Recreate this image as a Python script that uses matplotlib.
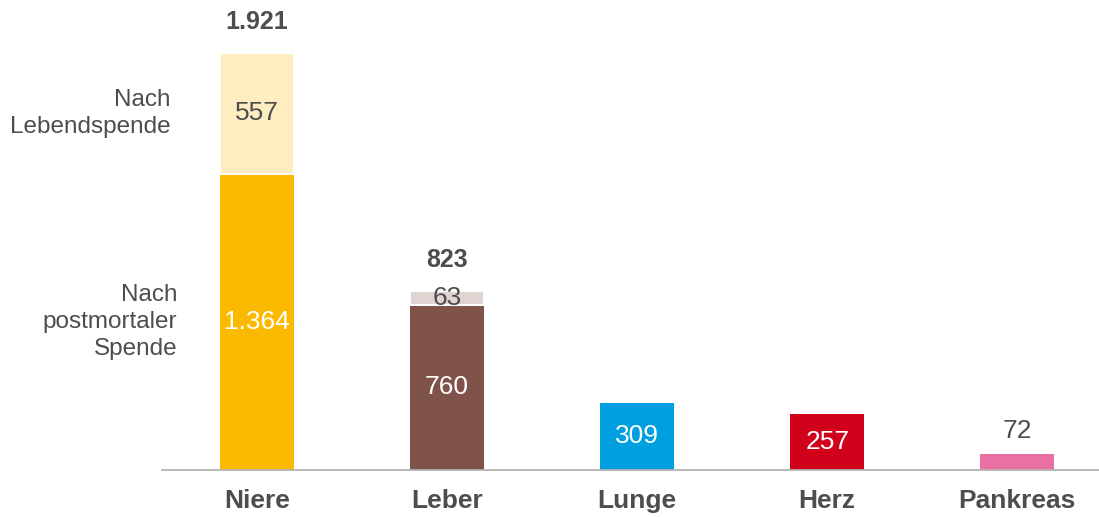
import matplotlib

matplotlib.use("Agg")
import matplotlib.pyplot as plt
import numpy as np

plt.rcParams["font.family"] = ["Liberation Sans", "DejaVu Sans"]

# data
organs = ["Niere", "Leber", "Lunge", "Herz", "Pankreas"]
postmortal = [1364, 760, 309, 257, 72]
lebend = [557, 63, 0, 0, 0]
totals = [1921, 823]
postmortal_labels = ["1.364", "760", "309", "257", "72"]
lebend_labels = ["557", "63"]
total_labels = ["1.921", "823"]

dark_colors = ["#FBBA00", "#7F5349", "#009FDF", "#D0021B", "#EA6FA2"]
light_colors = ["#FDEDC0", "#E0D4D2"]
TEXT = "#4D4D4D"

fig = plt.figure(figsize=(10.99, 5.17), dpi=100)
ax = fig.add_axes([162 / 1099, 1 - 470 / 517, 1 - 162 / 1099, 470 / 517])

x = np.arange(len(organs))
width = 0.39

ax.bar(x, postmortal, width=width, color=dark_colors, linewidth=0)
ax.bar(x[:2], lebend[:2], bottom=postmortal[:2], width=width,
       color=light_colors, edgecolor="white", linewidth=1.4)

ax.set_xlim(-0.5, 4.43)
ax.set_ylim(0, 2164)

# values inside the postmortal bars
for i, (v, lab) in enumerate(zip(postmortal, postmortal_labels)):
    if v < 150:
        ax.annotate(lab, (x[i], v), xytext=(0, 11.5), textcoords="offset points",
                    ha="center", va="baseline", fontsize=19, color=TEXT)
    else:
        ax.text(x[i], v / 2, lab, ha="center", va="center", fontsize=19, color="white")

# values of the living donor segments
for i, lab in enumerate(lebend_labels):
    ax.text(x[i], postmortal[i] + lebend[i] / 2, lab, ha="center", va="center",
            fontsize=19, color=TEXT)

# totals
for i, (t, lab) in enumerate(zip(totals, total_labels)):
    ax.annotate(lab, (x[i], t), xytext=(0, 17.3), textcoords="offset points",
                ha="center", va="baseline", fontsize=18, fontweight="bold", color=TEXT)

# segment labels to the left of the first bar
ax.text(-0.455, postmortal[0] + lebend[0] / 2, "Nach\nLebendspende", ha="right",
        va="center", fontsize=17.5, color=TEXT, linespacing=1.3)
ax.text(-0.42, postmortal[0] / 2, "Nach\npostmortaler\nSpende", ha="right",
        va="center", fontsize=17.5, color=TEXT, linespacing=1.3)

ax.set_xticks(x)
ax.set_xticklabels(organs, fontsize=19, fontweight="bold", color=TEXT)
ax.tick_params(axis="x", length=0, pad=14)
ax.set_yticks([])
for side in ["top", "right", "left"]:
    ax.spines[side].set_visible(False)
ax.spines["bottom"].set_color("#B3B3B3")
ax.spines["bottom"].set_linewidth(1.3)
ax.patch.set_alpha(0)

fig.savefig("out.png", dpi=100)
